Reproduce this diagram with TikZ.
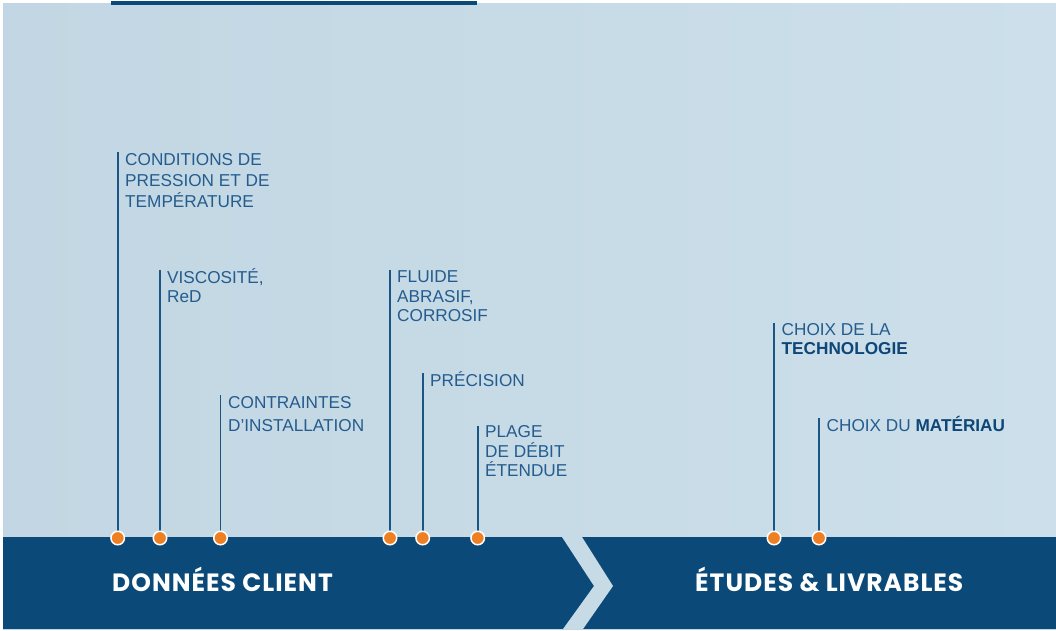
\documentclass[tikz,border=0pt]{standalone}
\usepackage{fontspec}
\setmainfont{Liberation Sans}
\newfontfamily\titlefont[LetterSpace=4]{Poppins}
\definecolor{bgL}{HTML}{C2D7E3}
\definecolor{bgR}{HTML}{CCDFEA}
\definecolor{navy}{HTML}{0B4A78}
\definecolor{linec}{HTML}{1A5586}
\definecolor{txt}{HTML}{245C8E}
\definecolor{txtb}{HTML}{0E4677}
\definecolor{dotc}{HTML}{EE7F22}
\begin{document}
\begin{tikzpicture}[x=1pt,y=-1pt,
  lbl/.style={anchor=base west, inner sep=0, align=left, text=txt},
  stem/.style={draw=linec, line width=1.6pt},
  pin/.style={circle, fill=dotc, draw=white, line width=1.5pt, minimum size=13.5pt, inner sep=0},
  ttl/.style={anchor=base west, inner sep=0, text=white, font=\titlefont\bfseries\fontsize{25}{30}\selectfont}]
\useasboundingbox (0,0) rectangle (1056,630);
\fill[white] (0,0) rectangle (1056,630);
\shade[left color=bgL, right color=bgR] (3,3) rectangle (1056,537);
\fill[navy] (111,1) rectangle (477,5);
\fill[navy] (3,537) rectangle (1056,629);
\fill[bgL] (3,629) rectangle (1056,630);
\fill[bgL!55!bgR] (562,537) -- (582,537) -- (613,586) -- (583,629) -- (563,629) -- (594,586) -- cycle;

% labels (anchor = baseline of last line)
\node[lbl, font=\fontsize{17.2}{21}\selectfont] (l1) at (125,207.5) {CONDITIONS DE\\PRESSION ET DE\\TEMPÉRATURE};
\node[lbl, font=\fontsize{17.2}{18.5}\selectfont] (l2) at (167,302) {VISCOSITÉ,\\ReD};
\node[lbl, font=\fontsize{17.2}{23}\selectfont] (l3) at (228,431) {CONTRAINTES\\D’INSTALLATION};
\node[lbl, font=\fontsize{17.2}{19.5}\selectfont] (l4) at (397,321.7) {FLUIDE\\ABRASIF,\\CORROSIF};
\node[lbl, font=\fontsize{17.2}{19.5}\selectfont] (l5) at (430,386) {PRÉCISION};
\node[lbl, font=\fontsize{17.2}{19.5}\selectfont] (l6) at (485,476.7) {PLAGE\\DE DÉBIT\\ÉTENDUE};
\node[lbl, font=\fontsize{17.2}{19}\selectfont] (l7) at (781.5,354.3) {CHOIX DE LA\\\textcolor{txtb}{\bfseries TECHNOLOGIE}};
\node[lbl, font=\fontsize{17.2}{19}\selectfont] (l8) at (826.5,431) {CHOIX DU \textcolor{txtb}{\bfseries MATÉRIAU}};

% stems and pins
\foreach \i/\x/\t in {1/117.7/152, 2/160/270, 3/220.5/395, 4/390/270, 5/422.7/373, 6/477.7/425.7, 7/774/322.7, 8/819/418} {
  \coordinate (t\i) at (\x,\t);
  \coordinate (p\i) at (\x,538);
  \draw[stem] (t\i) -- (p\i);
  \node[pin] (d\i) at (p\i) {};
}

% titles
\node[ttl] (c1) at (112,591.5) {DONNÉES CLIENT};
\node[ttl] (c2) at (695,591.5) {ÉTUDES \& LIVRABLES};
\end{tikzpicture}
\end{document}
